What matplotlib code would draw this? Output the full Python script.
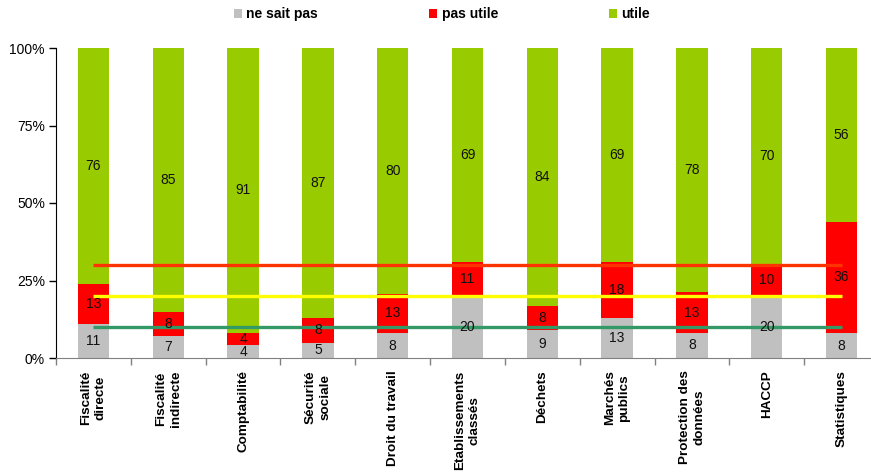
import numpy as np
import matplotlib
matplotlib.use("Agg")
import matplotlib.pyplot as plt
from matplotlib.ticker import FixedLocator, PercentFormatter

plt.rcParams['font.family'] = ['Liberation Sans', 'DejaVu Sans']

categories = ["Fiscalité\ndirecte", "Fiscalité\nindirecte", "Comptabilité", "Sécurité\nsociale",
              "Droit du travail", "Etablissements\nclassés", "Déchets", "Marchés\npublics",
              "Protection des\ndonnées", "HACCP", "Statistiques"]
ne_sait_pas = [11, 7, 4, 5, 8, 20, 9, 13, 8, 20, 8]
pas_utile = [13, 8, 4, 8, 13, 11, 8, 18, 13, 10, 36]
utile = [76, 85, 91, 87, 80, 69, 84, 69, 78, 70, 56]
# reference levels drawn across the bars
seuils = [30, 20, 10]
seuil_colors = ["#FF3300", "#FFFF00", "#339966"]

series = [("ne sait pas", ne_sait_pas, "#C0C0C0"),
          ("pas utile", pas_utile, "#FF0000"),
          ("utile", utile, "#99CC00")]

totals = np.array(ne_sait_pas) + np.array(pas_utile) + np.array(utile)
x = np.arange(len(categories))

fig = plt.figure(figsize=(8.71, 4.72), dpi=100)
ax = fig.add_axes([56 / 871, 1 - 358 / 472, 823 / 871, 310 / 472])

bottom = np.zeros(len(categories))
for name, vals, col in series:
    pct = np.array(vals) / totals * 100
    ax.bar(x, pct, 0.42, bottom=bottom, color=col, label=name, zorder=2)
    for xi, b, p, v in zip(x, bottom, pct, vals):
        ax.text(xi, b + p / 2, str(v), ha='center', va='center', fontsize=10, color='#111111', zorder=4)
    bottom += pct

for s, c in zip(seuils, seuil_colors):
    ax.plot([x[0], x[-1]], [s, s], color=c, lw=2.4, zorder=3, solid_capstyle='butt')

ax.set_xlim(-0.5, len(categories) - 0.5)
ax.set_ylim(0, 100)
ax.yaxis.set_major_locator(FixedLocator([0, 25, 50, 75, 100]))
ax.yaxis.set_major_formatter(PercentFormatter(decimals=0))
ax.tick_params(axis='y', labelsize=10, length=5, width=1, direction='out', pad=3)

ax.set_xticks(x)
ax.set_xticklabels(categories, rotation=90, fontsize=9.7, fontweight='bold',
                   va='top', ha='center', multialignment='center', linespacing=1.3)
ax.tick_params(axis='x', which='major', length=0, pad=9)
ax.set_xticks(np.arange(len(categories) + 1) - 0.5, minor=True)
ax.tick_params(axis='x', which='minor', length=5, width=1, color='#808080')

for side in ['top', 'right']:
    ax.spines[side].set_visible(False)
ax.spines['left'].set_color('black')
ax.spines['bottom'].set_color('#808080')

leg = fig.legend(loc='center', bbox_to_anchor=(442 / 871, 1 - 14 / 472), ncol=3, frameon=False,
                 handlelength=0.6, handleheight=0.6, handletextpad=0.3, columnspacing=8.0,
                 prop={'weight': 'bold', 'size': 10})

fig.savefig("out.png", dpi=100)
